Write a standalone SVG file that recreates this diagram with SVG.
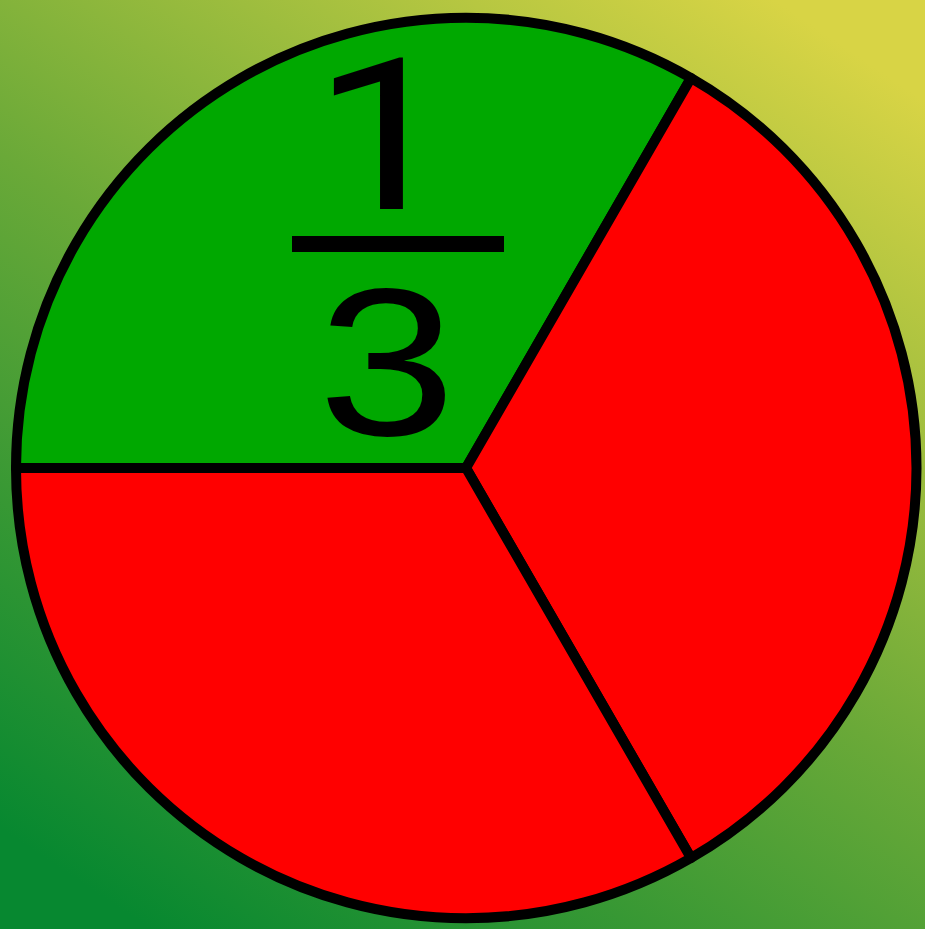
<svg xmlns="http://www.w3.org/2000/svg" width="925" height="929" viewBox="0 0 925 929">
  <defs>
    <linearGradient id="bg" x1="150" y1="929" x2="775" y2="0" gradientUnits="userSpaceOnUse">
      <stop offset="0" stop-color="#078830"/>
      <stop offset="0.5" stop-color="#6aa938"/>
      <stop offset="1" stop-color="#d8d445"/>
    </linearGradient>
    <style>
      .slice { stroke: #000; stroke-width: 10; stroke-linejoin: round; }
      .num { font-family: "Liberation Sans", Arial, sans-serif; font-size: 210px; fill: #000; text-anchor: middle; }
      .one { font-family: Roboto, "Liberation Sans", sans-serif; font-size: 211px; fill: #000; text-anchor: middle; }
    </style>
  </defs>
  <rect x="0" y="0" width="925" height="929" fill="url(#bg)"/>
  <g id="pie">
    <g id="slice-green">
      <path class="slice" fill="#00a800" d="M466,468 L16,468 A450,450 0 0 1 691,78 Z"/>
    </g>
    <g id="slice-red-right">
      <path class="slice" fill="#ff0000" d="M466,468 L691,78 A450,450 0 0 1 691,858 Z"/>
    </g>
    <g id="slice-red-bottom">
      <path class="slice" fill="#ff0000" d="M466,468 L691,858 A450,450 0 0 1 16,468 Z"/>
    </g>
  </g>
  <g id="fraction">
    <text class="one" transform="translate(384,209) scale(1.2,1)" x="0" y="0">1</text>
    <rect x="292" y="236" width="212" height="16" fill="#000"/>
    <text class="num" transform="translate(387,435) scale(1.18,1)" x="0" y="0">3</text>
  </g>
</svg>
